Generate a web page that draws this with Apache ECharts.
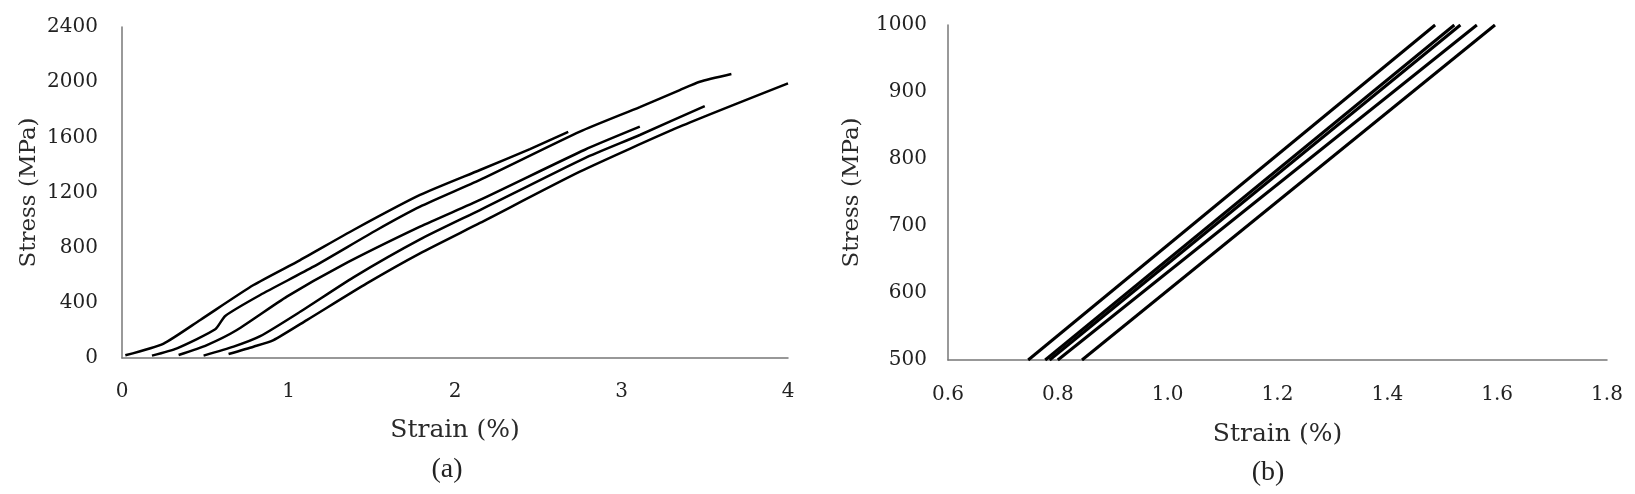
<!DOCTYPE html>
<html>
<head>
<meta charset="utf-8">
<script src="https://cdn.jsdelivr.net/npm/echarts@6/dist/echarts.min.js"></script>
<style>
    html, body { margin: 0; padding: 0; background: #fff; }
    #chart { width: 1635px; height: 494px; }
</style>
</head>
<body>
<div id="chart"></div>
<script>
// (a) stress-strain curves, [strain %, stress MPa]
var curve1 = [[0.02, 20], [0.25, 105], [0.47, 276], [0.79, 529], [1.07, 710], [1.39, 928], [1.79, 1182], [2.15, 1363], [2.45, 1515], [2.68, 1639]];
var curve2 = [[0.18, 17], [0.33, 70], [0.56, 208], [0.62, 305], [0.83, 457], [1.15, 662], [1.53, 928], [1.79, 1097], [2.15, 1291], [2.75, 1641], [3.11, 1819], [3.35, 1943], [3.47, 2003], [3.66, 2059]];
var curve3 = [[0.34, 22], [0.51, 94], [0.69, 203], [0.99, 445], [1.31, 665], [1.79, 952], [2.15, 1146], [2.78, 1510], [3.11, 1677]];
var curve4 = [[0.49, 17], [0.67, 82], [0.83, 158], [1.07, 335], [1.39, 585], [1.79, 860], [2.15, 1073], [2.78, 1450], [3.11, 1617], [3.50, 1827]];
var curve5 = [[0.64, 29], [0.79, 82], [0.91, 130], [1.11, 275], [1.47, 541], [1.79, 759], [2.15, 979], [2.75, 1351], [3.35, 1677], [4.00, 1991]];

// (b) elastic region, strain where each line crosses 500 and 1000 MPa
var zoomStress = [500, 1000];
var strainAt500 = [0.746, 0.777, 0.785, 0.800, 0.844];
var strainAt1000 = [1.487, 1.522, 1.533, 1.563, 1.596];

var serif = 'DejaVu Serif';
var axisColor = '#777';
var labelColor = '#222';

function axisBase(gridIndex, nameSize) {
    return {
        gridIndex: gridIndex,
        type: 'value',
        splitLine: { show: false },
        axisTick: { show: false },
        axisLine: { show: true, lineStyle: { color: axisColor, width: 1.5 } },
        nameLocation: 'middle',
        nameMoveOverlap: false,
        nameTextStyle: { fontFamily: serif, fontSize: nameSize, color: '#2a2a2a' }
    };
}

function tickLabel(margin, digits) {
    return {
        fontFamily: serif, fontSize: 20, color: labelColor, margin: margin,
        formatter: function (v) { return v.toFixed(digits); }
    };
}

function lineSeries(data, xi, width) {
    return {
        type: 'line',
        xAxisIndex: xi,
        yAxisIndex: xi,
        data: data,
        showSymbol: false,
        smooth: 0.2,
        lineStyle: { color: '#000', width: width },
        silent: true
    };
}

function getOption() {
    var series = [curve1, curve2, curve3, curve4, curve5].map(function (c) {
        return lineSeries(c, 0, 2.5);
    });
    strainAt500.forEach(function (s, i) {
        series.push(lineSeries([[s, zoomStress[0]], [strainAt1000[i], zoomStress[1]]], 1, 3));
    });

    return {
        animation: false,
        grid: [
            { left: 122, top: 27, width: 666, height: 331 },
            { left: 948, top: 25, width: 659, height: 335 }
        ],
        xAxis: [
            Object.assign(axisBase(0, 25), {
                min: 0, max: 4, interval: 1,
                name: 'Strain (%)', nameGap: 60,
                axisLabel: tickLabel(24, 0)
            }),
            Object.assign(axisBase(1, 25), {
                min: 0.6, max: 1.8, interval: 0.2,
                name: 'Strain (%)', nameGap: 62,
                axisLabel: tickLabel(25, 1)
            })
        ],
        yAxis: [
            Object.assign(axisBase(0, 23), {
                min: 0, max: 2400, interval: 400,
                name: 'Stress (MPa)', nameGap: 81,
                axisLabel: tickLabel(24, 0)
            }),
            Object.assign(axisBase(1, 23), {
                min: 500, max: 1000, interval: 100,
                name: 'Stress (MPa)', nameGap: 84,
                axisLabel: tickLabel(21, 0)
            })
        ],
        graphic: [
            { type: 'text', x: 447, y: 470, style: { text: '(a)', fontSize: 28, fontFamily: 'Liberation Serif', fill: '#222', textAlign: 'center', textVerticalAlign: 'middle' } },
            { type: 'text', x: 1268, y: 473, style: { text: '(b)', fontSize: 28, fontFamily: 'Liberation Serif', fill: '#222', textAlign: 'center', textVerticalAlign: 'middle' } }
        ],
        series: series
    };
}

var myChart = echarts.init(document.getElementById('chart'));
myChart.setOption(getOption());
</script>
</body>
</html>
